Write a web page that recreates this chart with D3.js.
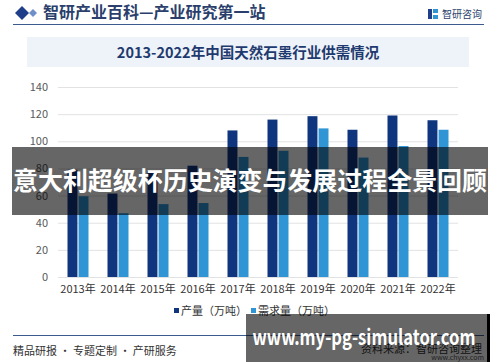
<!DOCTYPE html>
<html><head><meta charset="utf-8">
<script src="https://cdn.jsdelivr.net/npm/d3@7"></script>
<style>
html,body{margin:0;padding:0;background:#fff;}
svg{display:block;}
text{font-family:"Noto Sans CJK SC","Noto Sans",sans-serif;}
</style></head>
<body>
<svg id="c" width="500" height="362"></svg>
<script>
const years = ["2013年","2014年","2015年","2016年","2017年","2018年","2019年","2020年","2021年","2022年"];
const production = [79, 61.5, 78, 82, 108, 116, 118.5, 108.5, 119, 115.5];
const demand = [59.5, 47, 53.7, 54.5, 88.5, 93, 109.5, 88, 96.5, 108.5];
const yTicks = [0, 20, 40, 60, 80, 100, 120, 140];
const seriesNames = ["产量（万吨）", "需求量（万吨）"];
const seriesColors = ["#10357f", "#2f95d5"];
const chartTitle = "2013-2022年中国天然石墨行业供需情况";
const headerTitle = "智研产业百科—产业研究第一站";
const overlayText = "意大利超级杯历史演变与发展过程全景回顾";
const overlayUrl = "www.my-pg-simulator.com";

const svg = d3.select("#c");

// header
svg.append("path").attr("d","M15,13 L22,6 L29,13 L22,20 Z").attr("fill","#1f3f8a");
svg.append("path").attr("d","M29,13 L33,9 L37,13 L33,17 Z").attr("fill","#6f8fc8");
svg.append("text").attr("x",43).attr("y",18).attr("font-size",16).attr("font-weight","bold")
  .attr("fill","#2b3f6c").text(headerTitle);
svg.append("rect").attr("x",428).attr("y",9).attr("width",4).attr("height",10).attr("fill","#1f3f8a");
svg.append("rect").attr("x",433).attr("y",9).attr("width",5).attr("height",4).attr("fill","#2f95d5");
svg.append("rect").attr("x",433).attr("y",15).attr("width",5).attr("height",4).attr("fill","#2f95d5");
svg.append("text").attr("x",442).attr("y",18).attr("font-size",10).attr("fill","#2b3f6c").text("智研咨询");
svg.append("line").attr("x1",13).attr("x2",484).attr("y1",24.5).attr("y2",24.5).attr("stroke","#3b5a8e").attr("stroke-width",1);

// title box
svg.append("rect").attr("x",27).attr("y",37).attr("width",442).attr("height",30).attr("fill","#eef3fa");
svg.append("text").attr("x",248).attr("y",58).attr("text-anchor","middle").attr("font-size",14.5)
  .attr("font-weight","bold").attr("fill","#1f3a6e").text(chartTitle);

// scales
const x = d3.scaleBand().domain(years).range([58, 458]).padding(0);
const xs = d3.scaleBand().domain([0,1]).range([0, 21]).paddingInner(0.1);
const y = d3.scaleLinear().domain([0, 140]).range([277, 87]);

// grid + y axis
const yAxis = d3.axisLeft(y).tickValues(yTicks).tickSize(0).tickPadding(10);
const yg = svg.append("g").attr("transform","translate(58,0)").call(yAxis);
yg.select(".domain").remove();
yg.selectAll("text").attr("font-size",11).attr("fill","#595959").attr("font-family","Liberation Sans, Arial, sans-serif");
svg.append("g").selectAll("line").data(yTicks).join("line")
  .attr("x1",58).attr("x2",458).attr("y1",d=>y(d)+0.5).attr("y2",d=>y(d)+0.5)
  .attr("stroke","#e2e2e2").attr("stroke-width",1);

// bars
const series = [production, demand];
series.forEach((vals, si) => {
  svg.append("g").selectAll("rect").data(vals).join("rect")
    .attr("x",(d,i)=>x(years[i]) + (x.bandwidth()-21)/2 + xs(si))
    .attr("width", xs.bandwidth())
    .attr("y", d=>y(d))
    .attr("height", d=>y(0)-y(d))
    .attr("fill", seriesColors[si]);
});

// x axis
const xAxis = d3.axisBottom(x).tickSize(0).tickPadding(8);
const xg = svg.append("g").attr("transform","translate(0,277)").call(xAxis);
xg.select(".domain").remove();
xg.selectAll("text").attr("font-size",11).attr("fill","#333");

// legend
const lg = svg.append("g");
const legendX = [174, 251];
seriesNames.forEach((n, i) => {
  lg.append("rect").attr("x",legendX[i]).attr("y",308).attr("width",5).attr("height",5).attr("fill",seriesColors[i]);
  lg.append("text").attr("x",legendX[i]+7).attr("y",315).attr("font-size",11).attr("fill","#333").text(n);
});

// footer
svg.append("line").attr("x1",13).attr("x2",484).attr("y1",335.5).attr("y2",335.5).attr("stroke","#3b5a8e").attr("stroke-width",1);
svg.append("text").attr("x",13).attr("y",355).attr("font-size",11).attr("fill","#333").text("精品研报 · 专题定制 · 产研服务");
svg.append("text").attr("x",482).attr("y",353).attr("text-anchor","end").attr("font-size",11).attr("fill","#333").text("资料来源：智研咨询整理");
svg.append("text").attr("x",484).attr("y",360).attr("text-anchor","end").attr("font-size",7).attr("fill","#555")
  .attr("font-family","Liberation Serif, serif").text("www.chyxx.com");

// overlay banner
svg.append("rect").attr("x",12).attr("y",147).attr("width",476).attr("height",68).attr("fill","#000").attr("opacity",0.6);
svg.append("text").attr("x",250).attr("y",190).attr("text-anchor","middle").attr("font-size",25)
  .attr("font-weight","bold").attr("fill","#fff").attr("textLength",474).attr("lengthAdjust","spacingAndGlyphs").text(overlayText);

// url overlay
svg.append("rect").attr("x",246).attr("y",314).attr("width",242).attr("height",48).attr("fill","#000").attr("opacity",0.6);
svg.append("rect").attr("x",487).attr("y",314).attr("width",3).attr("height",48).attr("fill","#000");
svg.append("text").attr("x",364).attr("y",345).attr("text-anchor","middle").attr("font-size",21)
  .attr("font-weight","bold").attr("fill","#fff").attr("font-family","DejaVu Sans, sans-serif")
  .attr("textLength",223).attr("lengthAdjust","spacingAndGlyphs").text(overlayUrl);
</script>
</body></html>
